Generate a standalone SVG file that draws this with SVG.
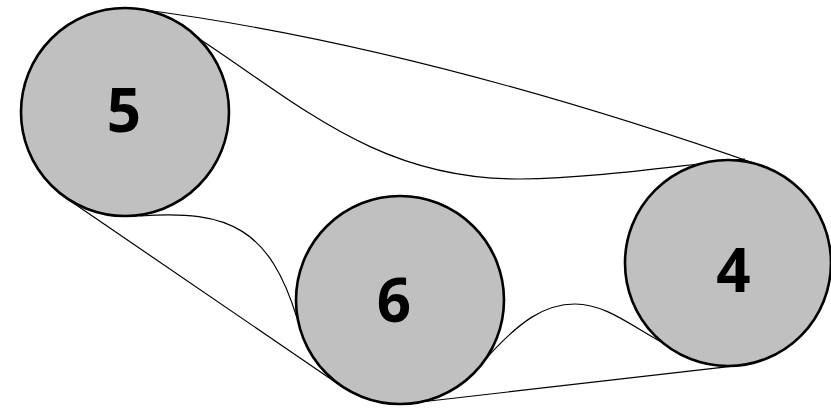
<svg xmlns="http://www.w3.org/2000/svg" width="831" height="410" viewBox="0 0 831 410">
<style>
.belt{fill:none;stroke:#000;stroke-width:1.2}
.pulley{fill:#c0c0c0;stroke:#000;stroke-width:2.6}
.lbl{font-family:"Open Sans","Noto Sans",sans-serif;font-weight:bold;font-size:60px;text-anchor:middle;fill:#000}
</style>
<rect width="831" height="410" fill="#fff"/>
<g id="connectors">
<path class="belt" d="M138,9 Q417,45 762,166"/>
<path class="belt" d="M198,38 C300,105 380,180 520,179 C600,178 680,165 745,159"/>
<path class="belt" d="M140,216 C230,209 270,230 297,318"/>
<path class="belt" d="M66,198 L341,386"/>
<path class="belt" d="M482,363 C520,320 545,304 575,304 C605,304 630,325 663,343"/>
<path class="belt" d="M412,403 L739.5,365.4"/>
</g>
<g id="node5">
<circle class="pulley" cx="125" cy="112" r="104"/>
<text class="lbl" x="124" y="132">5</text>
</g>
<g id="node6">
<circle class="pulley" cx="400" cy="300" r="104"/>
<text class="lbl" x="394" y="322">6</text>
</g>
<g id="node4">
<circle class="pulley" cx="728" cy="263" r="103"/>
<text class="lbl" x="733.5" y="292">4</text>
</g>
</svg>
